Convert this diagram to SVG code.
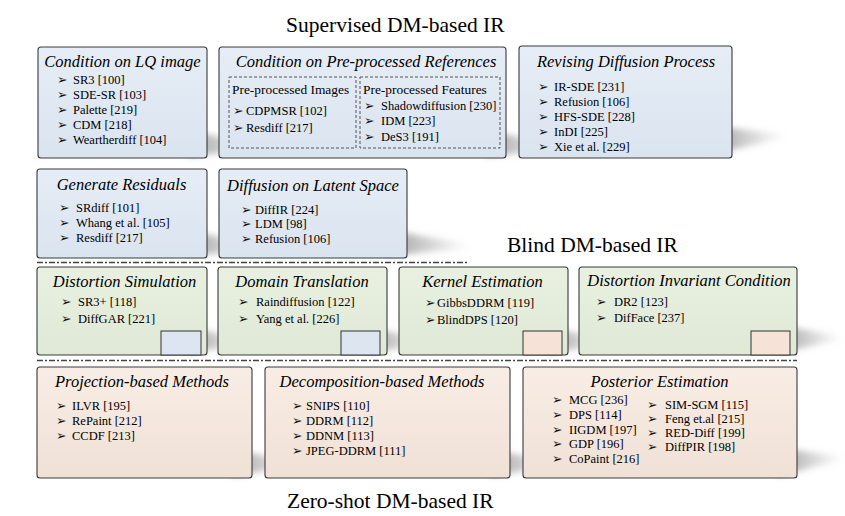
<svg xmlns="http://www.w3.org/2000/svg" width="845" height="516" viewBox="0 0 845 516">
<defs>
<linearGradient id="gB" x1="0" y1="0" x2="0" y2="1"><stop offset="0" stop-color="#e6edf6"/><stop offset="1" stop-color="#dae4ef"/></linearGradient>
<linearGradient id="gG" x1="0" y1="0" x2="0" y2="1"><stop offset="0" stop-color="#e9f0e1"/><stop offset="1" stop-color="#dfe9d6"/></linearGradient>
<linearGradient id="gP" x1="0" y1="0" x2="0" y2="1"><stop offset="0" stop-color="#f8ede5"/><stop offset="1" stop-color="#f0e1d6"/></linearGradient>
<linearGradient id="gS" x1="0" y1="0" x2="1" y2="0"><stop offset="0" stop-color="#7a7a7a" stop-opacity="0.75"/><stop offset="1" stop-color="#9a9a9a" stop-opacity="0"/></linearGradient>
<filter id="blur" x="-30%" y="-80%" width="160%" height="260%"><feGaussianBlur stdDeviation="3"/></filter>
<style>
.box{stroke:#3a3a3a;stroke-width:1.1}
.blue{fill:url(#gB)}
.green{fill:url(#gG)}
.peach{fill:url(#gP)}
.sh{fill:url(#gS);filter:url(#blur)}
.ttl{font-family:"Liberation Serif","Times New Roman",serif;font-style:italic;font-size:16.5px;fill:#000;text-anchor:middle}
.hd{font-family:"Liberation Serif","Times New Roman",serif;font-size:21.5px;fill:#000}
.sub{font-family:"Liberation Serif","Times New Roman",serif;font-size:13.4px;fill:#000}
.it{font-family:"Liberation Serif","Times New Roman",serif;font-size:12.5px;fill:#000}
.b{font-family:"DejaVu Sans",sans-serif;font-size:12.5px;fill:#111}
.dash{fill:none;stroke:#555;stroke-width:1;stroke-dasharray:3 2}
.sep{fill:none;stroke:#444;stroke-width:1.3;stroke-dasharray:6 2 2 2}
.sqB{fill:#dde6f0;stroke:#333;stroke-width:1}
.sqP{fill:#f5e3d8;stroke:#333;stroke-width:1}
</style>
</defs>
<rect width="845" height="516" fill="#ffffff"/>

<g id="shadows">
<polygon class="sh" points="187,130 262,146 262,150 187,156"/>
<polygon class="sh" points="486,130 560,146 560,150 486,156"/>
<polygon class="sh" points="712,126 785,134 785,138 712,154"/>
<polygon class="sh" points="187,230 262,246 262,250 187,256"/>
<polygon class="sh" points="387,230 470,244 470,248 387,256"/>
<polygon class="sh" points="187,327 250,340 250,344 187,353"/>
<polygon class="sh" points="367,327 430,340 430,344 367,353"/>
<polygon class="sh" points="548,327 610,340 610,344 548,353"/>
<polygon class="sh" points="777,325 842,336 842,340 777,353"/>
<polygon class="sh" points="232,450 300,462 300,466 232,476"/>
<polygon class="sh" points="490,450 560,462 560,466 490,476"/>
<polygon class="sh" points="777,448 843,456 843,460 777,476"/>
</g>

<g id="headers">
<text class="hd" x="286" y="32">Supervised DM-based IR</text>
<text class="hd" x="507" y="252">Blind DM-based IR</text>
<text class="hd" x="287" y="508">Zero-shot DM-based IR</text>
</g>

<g id="connectors">
<line class="sep" x1="37" y1="262.5" x2="468" y2="262.5"/>
<line class="sep" x1="37" y1="360.5" x2="797" y2="360.5"/>
</g>

<g id="cond-lq">
<rect class="box blue" x="38" y="47" width="169" height="111" rx="3"/>
<text class="ttl" x="122.5" y="67">Condition on LQ image</text>
<text class="it" y="84"><tspan class="b" x="57">➢</tspan><tspan x="73">SR3 [100]</tspan></text>
<text class="it" y="99"><tspan class="b" x="57">➢</tspan><tspan x="73">SDE-SR [103]</tspan></text>
<text class="it" y="114"><tspan class="b" x="57">➢</tspan><tspan x="73">Palette [219]</tspan></text>
<text class="it" y="129"><tspan class="b" x="57">➢</tspan><tspan x="73">CDM [218]</tspan></text>
<text class="it" y="144"><tspan class="b" x="57">➢</tspan><tspan x="73">Weartherdiff [104]</tspan></text>
</g>

<g id="cond-pre">
<rect class="box blue" x="219" y="47" width="287" height="111" rx="3"/>
<text class="ttl" x="366" y="67">Condition on Pre-processed References</text>
<rect class="dash" x="229" y="77" width="127" height="71"/>
<rect class="dash" x="360" y="77" width="140" height="71"/>
<text class="sub" x="232" y="94">Pre-processed Images</text>
<text class="it" y="115"><tspan class="b" x="233">➢</tspan><tspan x="246">CDPMSR [102]</tspan></text>
<text class="it" y="132"><tspan class="b" x="233">➢</tspan><tspan x="246">Resdiff [217]</tspan></text>
<text class="sub" x="363" y="94">Pre-processed Features</text>
<text class="it" y="110"><tspan class="b" x="364">➢</tspan><tspan x="381">Shadowdiffusion [230]</tspan></text>
<text class="it" y="125"><tspan class="b" x="364">➢</tspan><tspan x="381">IDM [223]</tspan></text>
<text class="it" y="141"><tspan class="b" x="364">➢</tspan><tspan x="381">DeS3 [191]</tspan></text>
</g>

<g id="revising">
<rect class="box blue" x="519" y="46" width="213" height="112" rx="3"/>
<text class="ttl" x="626" y="67">Revising Diffusion Process</text>
<text class="it" y="91"><tspan class="b" x="538">➢</tspan><tspan x="554">IR-SDE [231]</tspan></text>
<text class="it" y="106"><tspan class="b" x="538">➢</tspan><tspan x="554">Refusion [106]</tspan></text>
<text class="it" y="121"><tspan class="b" x="538">➢</tspan><tspan x="554">HFS-SDE [228]</tspan></text>
<text class="it" y="136"><tspan class="b" x="538">➢</tspan><tspan x="554">InDI [225]</tspan></text>
<text class="it" y="151"><tspan class="b" x="538">➢</tspan><tspan x="554">Xie et al. [229]</tspan></text>
</g>

<g id="residuals">
<rect class="box blue" x="37" y="169" width="170" height="89" rx="3"/>
<text class="ttl" x="121.5" y="190">Generate Residuals</text>
<text class="it" y="212"><tspan class="b" x="59">➢</tspan><tspan x="76">SRdiff [101]</tspan></text>
<text class="it" y="227"><tspan class="b" x="59">➢</tspan><tspan x="76">Whang et al. [105]</tspan></text>
<text class="it" y="242"><tspan class="b" x="59">➢</tspan><tspan x="76">Resdiff [217]</tspan></text>
</g>

<g id="latent">
<rect class="box blue" x="219" y="169" width="188" height="89" rx="3"/>
<text class="ttl" x="313" y="191">Diffusion on Latent Space</text>
<text class="it" y="214"><tspan class="b" x="241">➢</tspan><tspan x="255">DiffIR [224]</tspan></text>
<text class="it" y="228"><tspan class="b" x="241">➢</tspan><tspan x="255">LDM [98]</tspan></text>
<text class="it" y="243"><tspan class="b" x="241">➢</tspan><tspan x="255">Refusion [106]</tspan></text>
</g>

<g id="distortion-sim">
<rect class="box green" x="37" y="267" width="170" height="88" rx="3"/>
<text class="ttl" x="124.5" y="287">Distortion Simulation</text>
<text class="it" y="306"><tspan class="b" x="61">➢</tspan><tspan x="78">SR3+ [118]</tspan></text>
<text class="it" y="323"><tspan class="b" x="61">➢</tspan><tspan x="78">DiffGAR [221]</tspan></text>
<rect class="sqB" x="161" y="331" width="40" height="24"/>
</g>

<g id="domain">
<rect class="box green" x="218" y="267" width="169" height="88" rx="3"/>
<text class="ttl" x="302" y="287">Domain Translation</text>
<text class="it" y="306"><tspan class="b" x="238">➢</tspan><tspan x="256">Raindiffusion [122]</tspan></text>
<text class="it" y="323"><tspan class="b" x="238">➢</tspan><tspan x="256">Yang et al. [226]</tspan></text>
<rect class="sqB" x="341" y="331" width="39" height="24"/>
</g>

<g id="kernel">
<rect class="box green" x="399" y="267" width="169" height="88" rx="3"/>
<text class="ttl" x="482.5" y="287">Kernel Estimation</text>
<text class="it" y="307"><tspan class="b" x="425">➢</tspan><tspan x="437">GibbsDDRM [119]</tspan></text>
<text class="it" y="324"><tspan class="b" x="425">➢</tspan><tspan x="437">BlindDPS [120]</tspan></text>
<rect class="sqP" x="523" y="331" width="39" height="24"/>
</g>

<g id="invariant">
<rect class="box green" x="579" y="267" width="218" height="88" rx="3"/>
<text class="ttl" x="689" y="286">Distortion Invariant Condition</text>
<text class="it" y="306"><tspan class="b" x="596">➢</tspan><tspan x="614">DR2 [123]</tspan></text>
<text class="it" y="322"><tspan class="b" x="596">➢</tspan><tspan x="614">DifFace [237]</tspan></text>
<rect class="sqP" x="751" y="331" width="39" height="24"/>
</g>

<g id="projection">
<rect class="box peach" x="37" y="367" width="215" height="111" rx="3"/>
<text class="ttl" x="142" y="387">Projection-based Methods</text>
<text class="it" y="410"><tspan class="b" x="56">➢</tspan><tspan x="72">ILVR [195]</tspan></text>
<text class="it" y="425"><tspan class="b" x="56">➢</tspan><tspan x="72">RePaint [212]</tspan></text>
<text class="it" y="440"><tspan class="b" x="56">➢</tspan><tspan x="72">CCDF [213]</tspan></text>
</g>

<g id="decomposition">
<rect class="box peach" x="265" y="367" width="245" height="111" rx="3"/>
<text class="ttl" x="382" y="387">Decomposition-based Methods</text>
<text class="it" y="410"><tspan class="b" x="292">➢</tspan><tspan x="306">SNIPS [110]</tspan></text>
<text class="it" y="425"><tspan class="b" x="292">➢</tspan><tspan x="306">DDRM [112]</tspan></text>
<text class="it" y="440"><tspan class="b" x="292">➢</tspan><tspan x="306">DDNM [113]</tspan></text>
<text class="it" y="455"><tspan class="b" x="292">➢</tspan><tspan x="306">JPEG-DDRM [111]</tspan></text>
</g>

<g id="posterior">
<rect class="box peach" x="523" y="367" width="274" height="111" rx="3"/>
<text class="ttl" x="659.5" y="387">Posterior Estimation</text>
<text class="it" y="404"><tspan class="b" x="552">➢</tspan><tspan x="569">MCG [236]</tspan></text>
<text class="it" y="419"><tspan class="b" x="552">➢</tspan><tspan x="569">DPS [114]</tspan></text>
<text class="it" y="434"><tspan class="b" x="552">➢</tspan><tspan x="569">IIGDM [197]</tspan></text>
<text class="it" y="448"><tspan class="b" x="552">➢</tspan><tspan x="569">GDP [196]</tspan></text>
<text class="it" y="463"><tspan class="b" x="552">➢</tspan><tspan x="569">CoPaint [216]</tspan></text>
<text class="it" y="409"><tspan class="b" x="647">➢</tspan><tspan x="665">SIM-SGM [115]</tspan></text>
<text class="it" y="423"><tspan class="b" x="647">➢</tspan><tspan x="665">Feng et.al [215]</tspan></text>
<text class="it" y="437"><tspan class="b" x="647">➢</tspan><tspan x="665">RED-Diff [199]</tspan></text>
<text class="it" y="451"><tspan class="b" x="647">➢</tspan><tspan x="665">DiffPIR [198]</tspan></text>
</g>
</svg>
